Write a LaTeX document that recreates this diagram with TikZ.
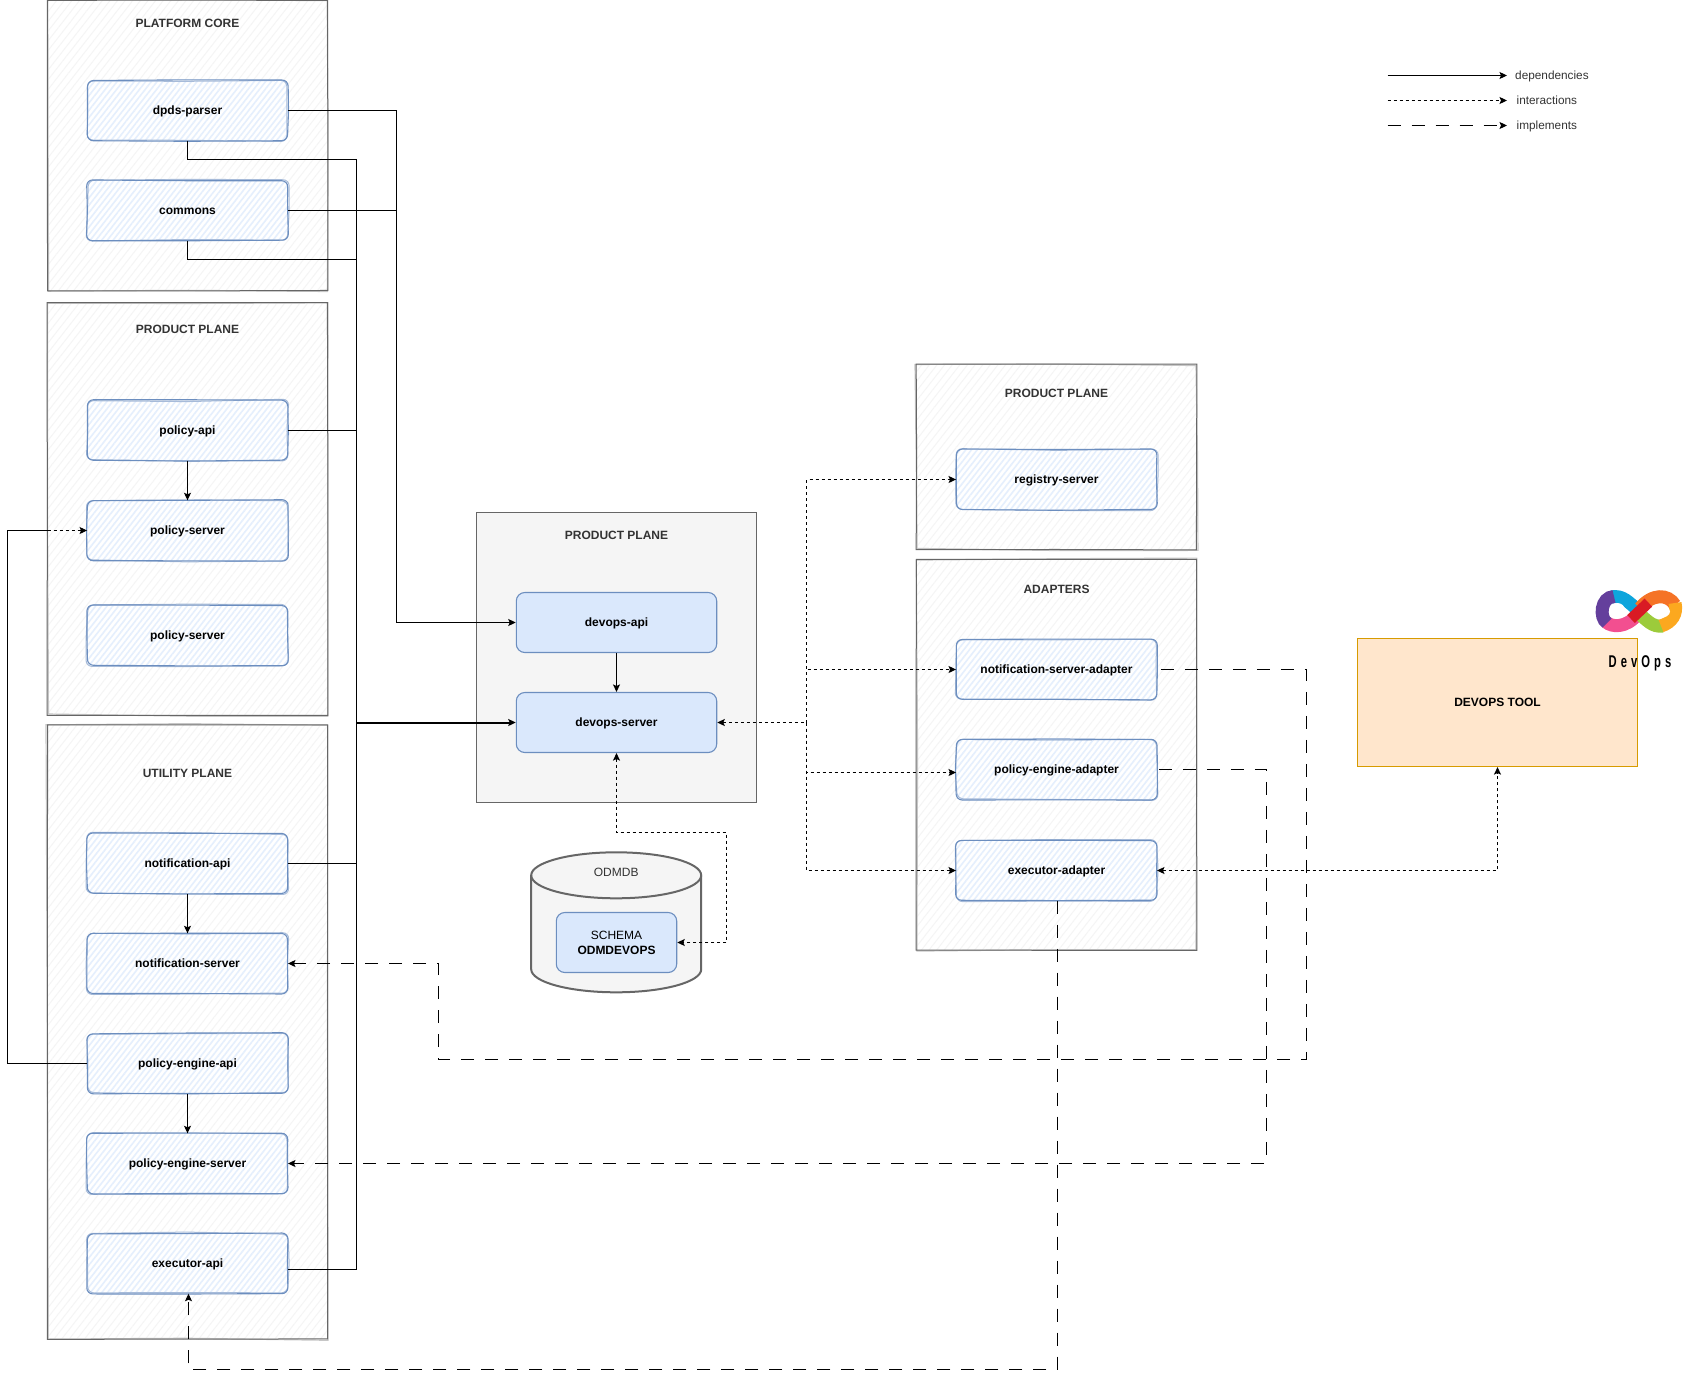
\documentclass[tikz,border=0pt]{standalone}
\usepackage{fontspec}
\setmainfont{Liberation Sans}
\newfontfamily\logofont[FakeStretch=0.66,LetterSpace=24]{Liberation Sans}
\usetikzlibrary{arrows.meta}
\usetikzlibrary{patterns.meta}
\definecolor{cblue}{HTML}{DAE8FC}
\definecolor{cbluedraw}{HTML}{6C8EBF}
\definecolor{cgrey}{HTML}{F5F5F5}
\definecolor{cgreydraw}{HTML}{666666}
\definecolor{ctext}{HTML}{333333}
\definecolor{ctool}{HTML}{FFE6CC}
\definecolor{ctooldraw}{HTML}{D79B00}
\definecolor{clogoblue}{RGB}{14,165,220}
\definecolor{clogopink}{RGB}{242,79,144}
\definecolor{clogogreen}{RGB}{156,203,59}
\definecolor{clogoorange}{RGB}{245,115,38}
\definecolor{clogoyellow}{RGB}{252,168,31}
\definecolor{clogopurple}{RGB}{100,63,156}
\definecolor{clogored}{RGB}{217,26,36}
\tikzset{
    >={Stealth[length=7.5pt, width=7pt, inset=1.5pt]},
    every node/.style={font=\fontsize{12}{14.4}\selectfont\bfseries, inner sep=0pt},
    oneline/.style={text height=10.5pt, text depth=2.5pt},
    planebox/.style={minimum width=280, minimum height=#1, fill=white,
        postaction={pattern={Lines[angle=52, distance=6pt, line width=1pt]}, pattern color=cgrey}},
    planeline/.style={draw=cgreydraw, line width=1},
    planeghost/.style={draw=gray!45, line width=1.2},
    planetitle/.style={oneline, text=ctext},
    sketchbox/.style={oneline, minimum width=200.5, minimum height=60, fill=white, rounded corners=6,
        postaction={pattern={Lines[angle=52, distance=4.5pt, line width=1.6pt]}, pattern color=cblue!70}},
    sketchline/.style={draw=cbluedraw, line width=1.1, rounded corners=6},
    sketchghost/.style={draw=cbluedraw!60, line width=1, rounded corners=6},
    plainbox/.style={oneline, minimum width=#1, minimum height=60, draw=cbluedraw, line width=1.1,
        fill=cblue, rounded corners=8.5},
    dep/.style={->, line width=1.1},
    inter/.style={->, line width=1.1, dash pattern=on 3pt off 3pt},
    impl/.style={->, line width=1.1, dash pattern=on 13pt off 11pt},
    legendtext/.style={oneline, font=\fontsize{11.8}{14}\selectfont, text=ctext, anchor=west},
    logopiece/.style={line width=13, draw=#1},
    dbline/.style={draw=cgreydraw, line width=2},
}
% wobbly outline through the anchors of a node
\newcommand{\sketchoutline}[3]{
    \draw [#2] ([shift={(rand*#3, rand*#3)}]#1.north west) -- ([shift={(rand*#3, rand*#3)}]#1.north)
        -- ([shift={(rand*#3, rand*#3)}]#1.north east) -- ([shift={(rand*#3, rand*#3)}]#1.east)
        -- ([shift={(rand*#3, rand*#3)}]#1.south east) -- ([shift={(rand*#3, rand*#3)}]#1.south)
        -- ([shift={(rand*#3, rand*#3)}]#1.south west) -- ([shift={(rand*#3, rand*#3)}]#1.west) -- cycle;
}

\begin{document}
\begin{tikzpicture}[x=1pt, y=-1pt]
\pgfmathsetseed{11}
\useasboundingbox (0, 0) rectangle (1697, 1379);

% plane frames
\foreach \name/\x/\y/\h in {coreplane/187.5/145.5/290, productleft/187.5/509/412, utilityplane/187.5/1032/614,
    productright/1056.5/457/185, adapterplane/1056.5/754.7/390.5} {
    \node [planebox=\h] (\name) at (\x, \y) {};
    \sketchoutline{\name}{planeghost}{1.3}
    \sketchoutline{\name}{planeline}{0.3}
}
\node [minimum width=280, minimum height=290, draw=cgreydraw, line width=1.1, fill=cgrey] (productmid) at (616.5, 657.5) {};

% plane titles
\foreach \name/\x/\y/\title in {coretitle/187.5/23.5/PLATFORM CORE, lefttitle/187.5/329/PRODUCT PLANE,
    utilitytitle/187.5/773/UTILITY PLANE, midtitle/616.5/535/PRODUCT PLANE,
    righttitle/1056.5/393/PRODUCT PLANE, adaptertitle/1056.5/589/ADAPTERS} {
    \node [planetitle] (\name) at (\x, \y) {\title};
}

% sketched modules
\foreach \name/\x/\y/\title in {dpdsparser/187.5/110.5/dpds-parser, commons/187.5/210.5/commons,
    policyapi/187.5/430.5/policy-api, policyserver/187.5/530.5/policy-server,
    policyservertwo/187.5/635.5/policy-server,
    notificationapi/187.5/863.5/notification-api, notificationserver/187.5/963.5/notification-server,
    policyengineapi/187.5/1063.5/policy-engine-api, policyengineserver/187.5/1163.5/policy-engine-server,
    executorapi/187.5/1263.5/executor-api,
    registryserver/1056.5/479.5/registry-server, notificationadapter/1056.5/669.5/notification-server-adapter,
    policyadapter/1056.5/769.5/policy-engine-adapter, executoradapter/1056.5/870.5/executor-adapter} {
    \node [sketchbox] (\name) at (\x, \y) {\title};
    \sketchoutline{\name}{sketchghost}{1.3}
    \sketchoutline{\name}{sketchline}{0.6}
}

% devops service
\node [plainbox=200.4] (devopsapi) at (616.5, 622.5) {devops-api};
\node [plainbox=200.4] (devopsserver) at (616.5, 722.5) {devops-server};

% database
\node [minimum width=170, minimum height=140] (odmdb) at (616.2, 922.3) {};
\draw [dbline, fill=cgrey] (531.2, 875.3) arc [start angle=180, end angle=360, x radius=85, y radius=23]
    -- (701.2, 969.3) arc [start angle=0, end angle=180, x radius=85, y radius=23] -- cycle;
\draw [dbline] (531.2, 875.3) arc [start angle=180, end angle=0, x radius=85, y radius=23];
\node [oneline, font=\fontsize{12}{14.4}\selectfont, text=ctext] (odmdblabel) at (616.2, 872) {ODMDB};
\node [plainbox=120.4, text height=, text depth=, align=center, font=\fontsize{12}{14.4}\selectfont] (schema) at (616.5, 942.5)
    {SCHEMA\\[0.6pt]\textbf{ODMDEVOPS}};

% devops tool
\node [oneline, minimum width=280, minimum height=128, draw=ctooldraw, line width=1.1, fill=ctool] (devopstool) at (1497.5, 702.5) {DEVOPS TOOL};

% logo
\draw [logopiece=clogoblue] (1611, 597) .. controls (1623, 594.5) and (1629, 603) .. (1638, 610);
\draw [logopiece=clogopink] (1606, 622) .. controls (1612, 627.5) and (1626, 628) .. (1637, 615);
\draw [logopiece=clogogreen] (1663, 626) .. controls (1652, 627.5) and (1647, 620) .. (1637, 612);
\draw [logopiece=clogoorange] (1675, 605) .. controls (1668, 593.5) and (1652, 593.5) .. (1640, 608);
\draw [logopiece=clogoyellow] (1675, 603) .. controls (1677.5, 614) and (1672, 622.5) .. (1661, 626);
\draw [logopiece=clogopurple] (1614, 596.5) .. controls (1600.5, 597) and (1599, 618) .. (1607, 623);
\fill [white] (1617.5, 610.5) ellipse [x radius=7.5, y radius=7.5];
\fill [white] (1660, 611.5) ellipse [x radius=10, y radius=6.5];
\draw [logopiece=clogored, line width=11] (1631, 619) -- (1648.4, 602.6);
\node [font=\logofont\bfseries\fontsize{17}{20}\selectfont, text=black] (logotext) at (1640, 663.5) {DevOps};

% dependencies into the devops service
\coordinate (buspoint) at (356.5, 722.5);
\draw [dep] (dpdsparser.east) -- (396.5, 110.5) -- (396.5, 622.5) -- (devopsapi.west);
\draw [line width=1.1] (commons.east) -- (396.5, 210.5);
\draw [line width=1.1] (dpdsparser.south) -- (187.5, 159.5) -- (356.5, 159.5) -- (buspoint);
\draw [line width=1.1] (commons.south) -- (187.5, 259.5) -- (356.5, 259.5);
\foreach \name/\y in {policyapi/430.5, notificationapi/863.5} {
    \draw [line width=1.1] (\name.east) -- (356.5, \y);
}
\draw [line width=1.1] ([yshift=-6]executorapi.east) -- (356.5, 1269.5) -- (buspoint);
\draw [->, line width=2] (buspoint) -- (devopsserver.west);

% dependencies inside the planes
\draw [dep] (devopsapi) -- (devopsserver);
\draw [dep] (policyapi) -- (policyserver);
\draw [dep] (notificationapi) -- (notificationserver);
\draw [dep] (policyengineapi) -- (policyengineserver);

% engine api back to policy server
\coordinate (leftentry) at (47.5, 530.5);
\draw [line width=1.1] (policyengineapi.west) -- (7.5, 1063.5) -- (7.5, 530.5) -- (leftentry);
\draw [inter, line width=0.9] (leftentry) -- (policyserver.west);

% interactions
\coordinate (fanpoint) at (806.5, 722.5);
\draw [<-, line width=1.8, dash pattern=on 3pt off 3pt] (devopsserver.east) -- (fanpoint);
\draw [inter] (fanpoint) -- (806.5, 479.5) -- (registryserver.west);
\draw [inter] (fanpoint) -- (806.5, 669.5) -- (notificationadapter.west);
\draw [inter] (fanpoint) -- (806.5, 772.5) -- ([yshift=-3]policyadapter.west);
\draw [inter] (fanpoint) -- (806.5, 870.5) -- (executoradapter.west);
\draw [inter, <->] (devopsserver.south) -- (616.5, 832.5) -- (726.5, 832.5) -- (726.5, 942.5) -- (schema.east);
\draw [inter, <->] (executoradapter.east) -- (1497.5, 870.5) -- (devopstool.south);

% implements
\draw [impl] ([xshift=4]notificationadapter.east) -- (1306.5, 669.5) -- (1306.5, 1059.5) -- (438.5, 1059.5) -- (438.5, 963.5) -- (notificationserver.east);
\draw [impl] ([xshift=2]policyadapter.east) -- (1266.5, 769.5) -- (1266.5, 1163.5) -- (policyengineserver.east);
\draw [impl] ([xshift=1]executoradapter.south) -- (1057.5, 1369.5) -- (188.5, 1369.5) -- ([xshift=1]executorapi.south);

% legend
\foreach \name/\y/\kind/\title/\x in {dependencies/75.5/dep/dependencies/1515, interactions/100.5/inter/interactions/1516.5, implements/125.5/impl/implements/1516.5} {
    \coordinate (\name start) at (1387.5, \y);
    \coordinate (\name end) at (1507, \y);
    \draw [\kind] (\name start) -- (\name end);
    \node [legendtext] (\name label) at (\x, \y) {\title};
}

\end{tikzpicture}
\end{document}
